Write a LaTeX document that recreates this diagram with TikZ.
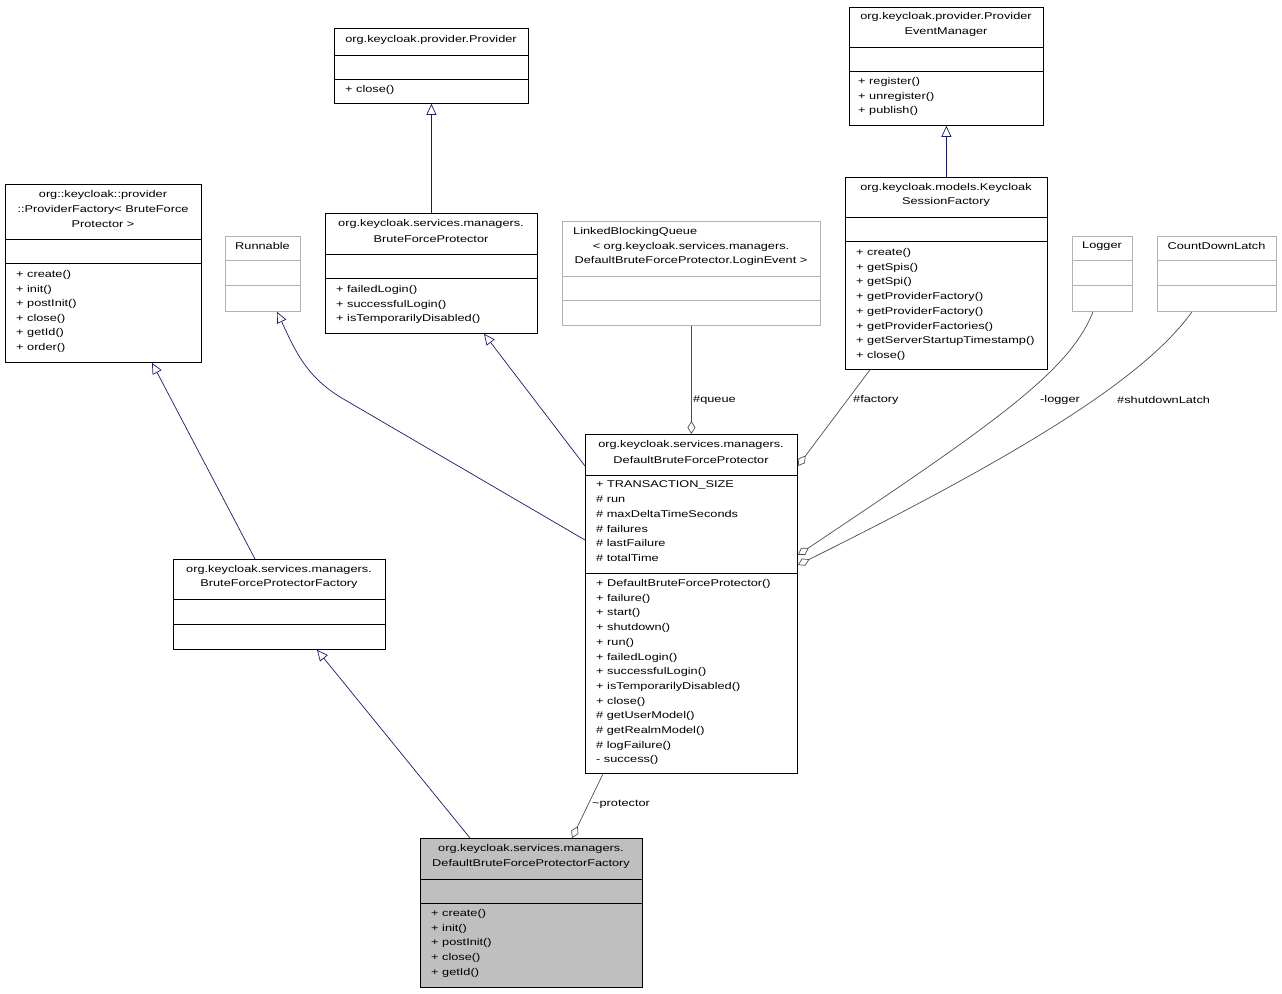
\documentclass[tikz,border=0pt]{standalone}
\usepackage{fontspec}
\setmainfont[FakeStretch=1.3]{Liberation Sans}
\usetikzlibrary{arrows.meta,calc}
\begin{document}
\begin{tikzpicture}[x=1pt,y=-1pt,
 box/.style={draw=black,line width=0.8pt,anchor=north west,inner sep=0pt},
 gbox/.style={draw=black!30,line width=0.8pt,anchor=north west,inner sep=0pt},
 txt/.style={font=\fontsize{9.8}{10}\selectfont,inner sep=0pt,anchor=west},
 ttl/.style={font=\fontsize{9.8}{10}\selectfont,inner sep=0pt,anchor=center},
 inh/.style={draw={rgb,255:red,25;green,25;blue,112},line width=0.7pt,-{Triangle[open,length=11pt,width=10pt]}},
 agg/.style={draw=black!70,line width=0.7pt,{Diamond[open,length=13pt,width=8pt]}-}]
\useasboundingbox (0,0) rectangle (1282,993);
% boxes
\node[box,minimum width=194,minimum height=75] (prov) at (334,28) {};
\draw (334,55)--(528,55) (334,79)--(528,79);
\node[ttl] (provt) at (431,40) {org.keycloak.provider.Provider};
\node[txt] (provm) at (345,90) {+ close()};

\node[box,minimum width=194,minimum height=118] (pem) at (849,7) {};
\draw (849,47)--(1043,47) (849,71)--(1043,71);
\node[ttl] (pemt1) at (946,17) {org.keycloak.provider.Provider};
\node[ttl] (pemt2) at (946,32) {EventManager};
\foreach \t [count=\i from 0] in {register(),unregister(),publish()}
  \node[txt] (pemm\i) at (858,82+14.7*\i) {+ \t};

\node[box,minimum width=196,minimum height=178] (pf) at (5,184) {};
\draw (5,239)--(201,239) (5,263)--(201,263);
\node[ttl] (pft1) at (103,195) {org::keycloak::provider};
\node[ttl] (pft2) at (103,210) {::ProviderFactory< BruteForce};
\node[ttl] (pft3) at (103,224) {Protector >};
\foreach \t [count=\i from 0] in {create(),init(),postInit(),close(),getId(),order()}
  \node[txt] (pfm\i) at (16,275+14.6*\i) {+ \t};

\node[gbox,minimum width=75,minimum height=75] (run) at (225,236) {};
\draw[black!30] (225,260)--(300,260) (225,285)--(300,285);
\node[ttl] (runt) at (262.5,246) {Runnable};

\node[box,minimum width=212,minimum height=120] (bfp) at (325,213) {};
\draw (325,254)--(537,254) (325,278)--(537,278);
\node[ttl] (bfpt1) at (431,224) {org.keycloak.services.managers.};
\node[ttl] (bfpt2) at (431,239) {BruteForceProtector};
\foreach \t [count=\i from 0] in {failedLogin(),successfulLogin(),isTemporarilyDisabled()}
  \node[txt] (bfpm\i) at (336,290+14.6*\i) {+ \t};

\node[gbox,minimum width=258,minimum height=104] (lbq) at (562,221) {};
\draw[black!30] (562,276)--(820,276) (562,300)--(820,300);
\node[txt] (lbqt1) at (573,232) {LinkedBlockingQueue};
\node[ttl] (lbqt2) at (691,247) {< org.keycloak.services.managers.};
\node[ttl] (lbqt3) at (691,261) {DefaultBruteForceProtector.LoginEvent >};

\node[box,minimum width=202,minimum height=192] (ksf) at (845,177) {};
\draw (845,217)--(1047,217) (845,241)--(1047,241);
\node[ttl] (ksft1) at (946,188) {org.keycloak.models.Keycloak};
\node[ttl] (ksft2) at (946,202) {SessionFactory};
\foreach \t [count=\i from 0] in {create(),getSpis(),getSpi(),getProviderFactory(),getProviderFactory(),getProviderFactories(),getServerStartupTimestamp(),close()}
  \node[txt] (ksfm\i) at (856,253+14.7*\i) {+ \t};

\node[gbox,minimum width=60,minimum height=75] (log) at (1072,236) {};
\draw[black!30] (1072,260)--(1132,260) (1072,285)--(1132,285);
\node[ttl] (logt) at (1102,246) {Logger};

\node[gbox,minimum width=119,minimum height=75] (cdl) at (1157,236) {};
\draw[black!30] (1157,260)--(1276,260) (1157,285)--(1276,285);
\node[ttl] (cdlt) at (1216.5,246) {CountDownLatch};

\node[box,minimum width=212,minimum height=339] (dbfp) at (585,434) {};
\draw (585,475)--(797,475) (585,573)--(797,573);
\node[ttl] (dbfpt1) at (691,445) {org.keycloak.services.managers.};
\node[ttl] (dbfpt2) at (691,460) {DefaultBruteForceProtector};
\foreach \t [count=\i from 0] in {+ TRANSACTION\_SIZE,\# run,\# maxDeltaTimeSeconds,\# failures,\# lastFailure,\# totalTime}
  \node[txt] (dbfpa\i) at (596,485+14.6*\i) {\t};
\foreach \t [count=\i from 0] in {+ DefaultBruteForceProtector(),+ failure(),+ start(),+ shutdown(),+ run(),+ failedLogin(),+ successfulLogin(),+ isTemporarilyDisabled(),+ close(),\# getUserModel(),\# getRealmModel(),\# logFailure(),- success()}
  \node[txt] (dbfpm\i) at (596,584+14.7*\i) {\t};

\node[box,minimum width=212,minimum height=90] (bfpf) at (173,559) {};
\draw (173,599)--(385,599) (173,624)--(385,624);
\node[ttl] (bfpft1) at (279,570) {org.keycloak.services.managers.};
\node[ttl] (bfpft2) at (279,584) {BruteForceProtectorFactory};

\node[box,fill={rgb,255:red,191;green,191;blue,191},minimum width=222,minimum height=149] (dfac) at (420,838) {};
\draw (420,879)--(642,879) (420,903)--(642,903);
\node[ttl] (dfact1) at (531,849) {org.keycloak.services.managers.};
\node[ttl] (dfact2) at (531,864) {DefaultBruteForceProtectorFactory};
\foreach \t [count=\i from 0] in {create(),init(),postInit(),close(),getId()}
  \node[txt] (dfacm\i) at (431,914+14.7*\i) {+ \t};

% inheritance
\draw[inh] (bfp.north -| prov.south) -- (prov.south);
\draw[inh] (ksf.north -| pem.south) -- (pem.south);
\draw[inh] ($(dbfp.north west)+(0,106)$) -- (340,397) .. controls (305,375) and (295,350) .. ($(run.south west)+(52,0)$);
\draw[inh] ($(dbfp.north west)+(0,32)$) -- ($(bfp.south west)+(159,0)$);
\draw[inh] ($(bfpf.north west)+(82,0)$) -- ($(pf.south west)+(147,0)$);
\draw[inh] ($(dfac.north west)+(50,0)$) -- ($(bfpf.south west)+(144,0)$);
% aggregation
\draw[agg] (dbfp.north -| lbq.south) -- (lbq.south);
\node[txt] (lq) at (693,400) {\#queue};
\draw[agg] ($(dbfp.north east)+(0,32)$) -- ($(ksf.south west)+(25,0)$);
\node[txt] (lf) at (853,400) {\#factory};
\draw[agg] ($(dbfp.north east)+(0,121)$) .. controls (1000,420) and (1070,370) .. ($(log.south west)+(21,0)$);
\node[txt] (ll) at (1040,400) {-logger};
\draw[agg] ($(dbfp.north east)+(0,131)$) .. controls (1050,440) and (1150,370) .. ($(cdl.south west)+(35,0)$);
\node[txt] (lc) at (1117,400) {\#shutdownLatch};
\draw[agg] ($(dfac.north west)+(152,0)$) -- ($(dbfp.south west)+(18,0)$);
\node[txt] (lp) at (592,804) {\textasciitilde protector};
\end{tikzpicture}
\end{document}
